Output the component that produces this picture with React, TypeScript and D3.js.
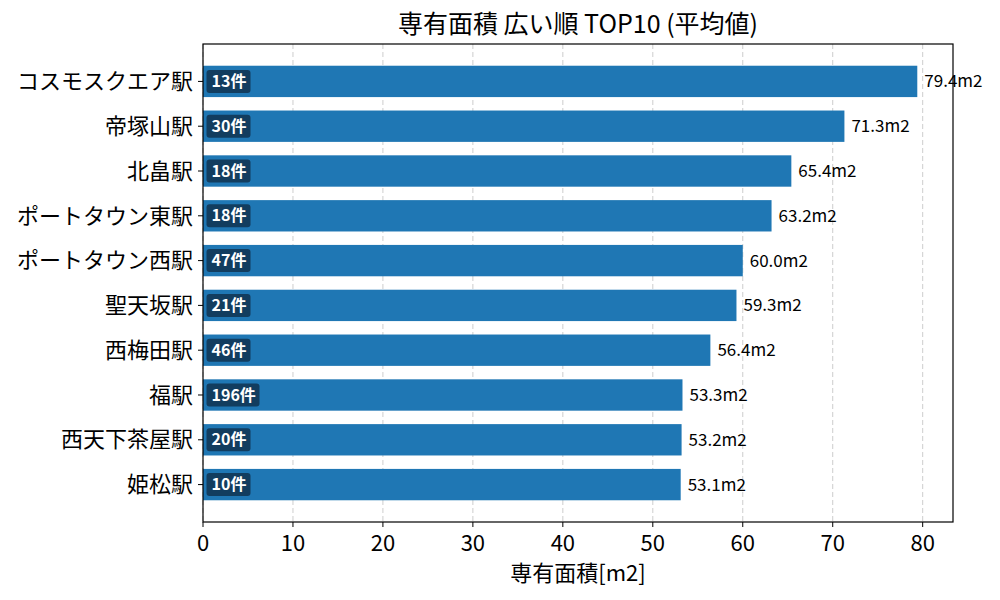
import React from "react";
import * as d3 from "d3";

const stations = ["コスモスクエア駅","帝塚山駅","北畠駅","ポートタウン東駅","ポートタウン西駅","聖天坂駅","西梅田駅","福駅","西天下茶屋駅","姫松駅"];
const areas = [79.4, 71.3, 65.4, 63.2, 60.0, 59.3, 56.4, 53.3, 53.2, 53.1];
const counts = [13, 30, 18, 18, 47, 21, 46, 196, 20, 10];
const xTicks = [0, 10, 20, 30, 40, 50, 60, 70, 80];

const W = 1000, H = 600;
const L = 203, R = 953, T = 44, B = 522;
const FONT = "'Noto Sans CJK JP', 'Noto Sans', sans-serif";

export default function App() {
  const xMax = d3.max(areas)! * 1.05;
  const x = d3.scaleLinear().domain([0, xMax]).range([L, R]);
  const barH = 0.7;
  const pad = (stations.length - 1 + barH) * 0.05 + barH / 2;
  const y = d3.scaleLinear().domain([-pad, stations.length - 1 + pad]).range([T, B]);
  const bh = y(barH) - y(0);

  return (
    <svg width={W} height={H} style={{ position: "absolute", left: 0, top: 0, background: "#fff" }} fontFamily={FONT}>
      <text x={(L + R) / 2} y={33} textAnchor="middle" fontSize={25} fill="#000">専有面積 広い順 TOP10 (平均値)</text>
      {xTicks.map((t) => (
        <line key={"g" + t} x1={x(t)} x2={x(t)} y1={T} y2={B} stroke="#b0b0b0" strokeOpacity={0.7} strokeDasharray="5,3" strokeWidth={0.9} />
      ))}
      {stations.map((s, i) => (
        <g key={s}>
          <rect x={x(0)} y={y(i) - bh / 2} width={x(areas[i]) - x(0)} height={bh} fill="#1f77b4" />
          <text x={x(areas[i]) + 7} y={y(i)} dy="0.35em" fontSize={17} fill="#000">{areas[i].toFixed(1)}m2</text>
          <line x1={L - 5} x2={L} y1={y(i)} y2={y(i)} stroke="#000" strokeWidth={1} />
          <text x={L - 10} y={y(i)} dy="0.35em" textAnchor="end" fontSize={22} fill="#000">{s}</text>
        </g>
      ))}
      {stations.map((s, i) => {
        const label = `${counts[i]}件`;
        const tw = String(counts[i]).length * 9 + 16;
        return (
          <g key={"b" + s}>
            <rect x={L + 3.5} y={y(i) - 11.5} width={tw + 10} height={23} rx={3} fill="#123a5b" opacity={0.95} />
            <text x={L + 8.5} y={y(i)} dy="0.35em" fontSize={16} fontWeight="bold" fill="#fff">{label}</text>
          </g>
        );
      })}
      <rect x={L} y={T} width={R - L} height={B - T} fill="none" stroke="#000" strokeWidth={1.2} />
      {xTicks.map((t) => (
        <g key={"t" + t}>
          <line x1={x(t)} x2={x(t)} y1={B} y2={B + 5} stroke="#000" />
          <text x={x(t)} y={551} textAnchor="middle" fontSize={22} fill="#000">{t}</text>
        </g>
      ))}
      <text x={(L + R) / 2} y={581} textAnchor="middle" fontSize={22} fill="#000">専有面積[m2]</text>
    </svg>
  );
}
